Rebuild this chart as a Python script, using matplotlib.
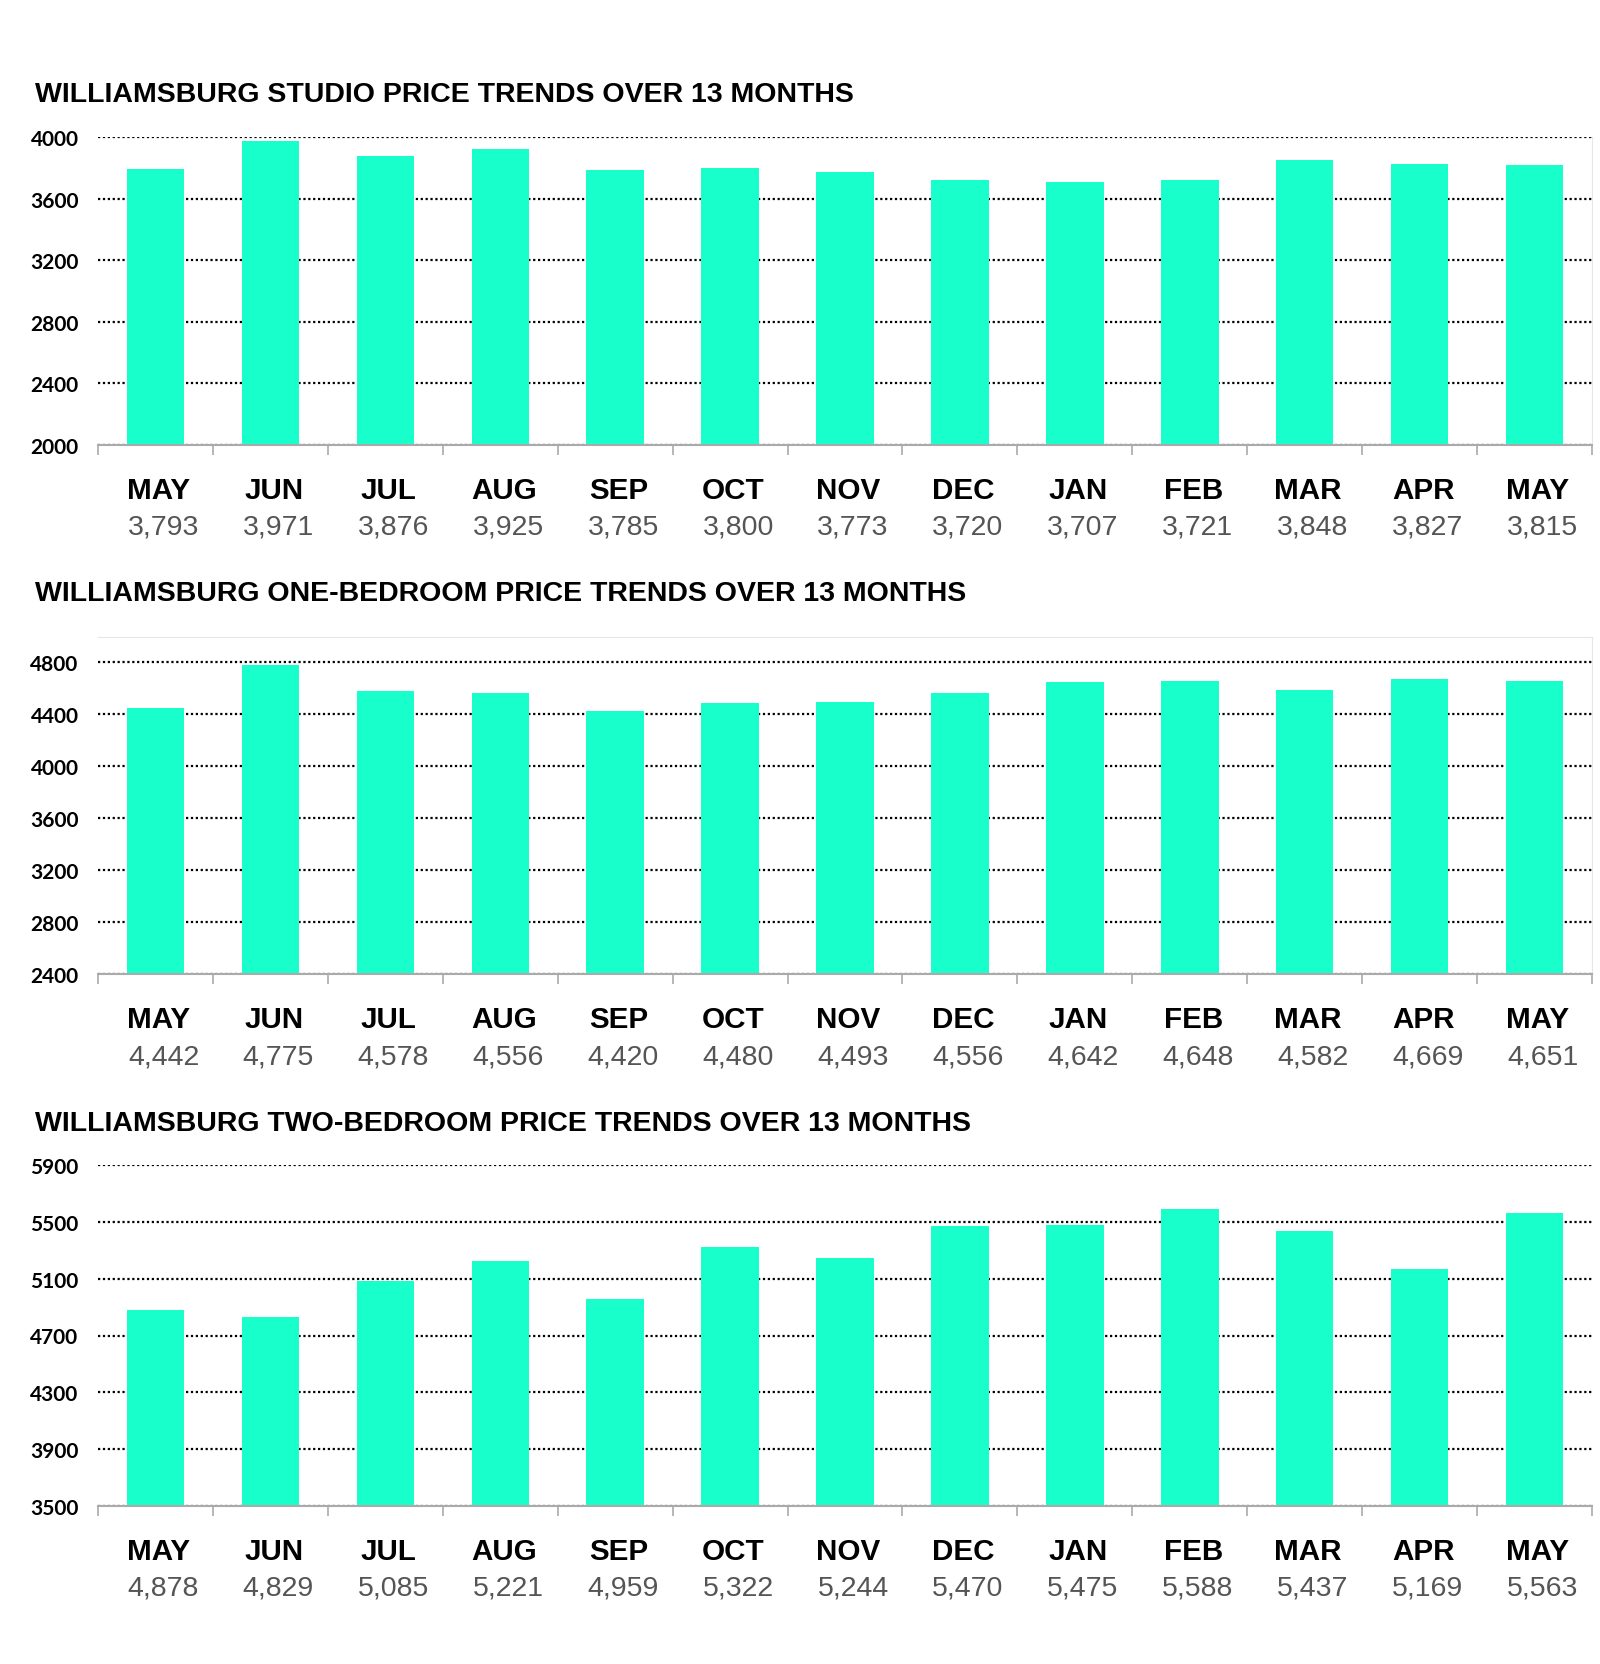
import matplotlib
matplotlib.use("Agg")
import matplotlib.pyplot as plt
import matplotlib.transforms as mtransforms
from matplotlib.ticker import FixedLocator

months = ["MAY", "JUN", "JUL", "AUG", "SEP", "OCT", "NOV", "DEC", "JAN", "FEB", "MAR", "APR", "MAY"]

studio = [3793, 3971, 3876, 3925, 3785, 3800, 3773, 3720, 3707, 3721, 3848, 3827, 3815]
one_bed = [4442, 4775, 4578, 4556, 4420, 4480, 4493, 4556, 4642, 4648, 4582, 4669, 4651]
two_bed = [4878, 4829, 5085, 5221, 4959, 5322, 5244, 5470, 5475, 5588, 5437, 5169, 5563]

titles = [
    "WILLIAMSBURG STUDIO PRICE TRENDS OVER 13 MONTHS",
    "WILLIAMSBURG ONE-BEDROOM PRICE TRENDS OVER 13 MONTHS",
    "WILLIAMSBURG TWO-BEDROOM PRICE TRENDS OVER 13 MONTHS",
]
yticks = [
    [2000, 2400, 2800, 3200, 3600, 4000],
    [2400, 2800, 3200, 3600, 4000, 4400, 4800],
    [3500, 3900, 4300, 4700, 5100, 5500, 5900],
]
ylims = [(2000, 4000), (2400, 4990), (3500, 5900)]
series = [studio, one_bed, two_bed]

W, H = 1600, 1665
fig = plt.figure(figsize=(W / 100, H / 100), dpi=100)
fig.patch.set_facecolor("white")

# (top_px, bottom_px, title_center_px, right_spine, top_spine)
layout = [
    (138, 446, 95, True, False),
    (638, 975, 594, True, True),
    (1166, 1507, 1124, False, False),
]
left_px, right_px = 98, 1592
bar_color = "#19FFCC"

for i, (top, bot, tpy, rsp, tsp) in enumerate(layout):
    ax = fig.add_axes([left_px / W, 1 - bot / H, (right_px - left_px) / W, (bot - top) / H])
    vals = series[i]
    x = list(range(len(months)))
    ax.bar(x, vals, width=0.5, color=bar_color, zorder=3)
    ax.set_xlim(-0.5, len(months) - 0.5)
    ax.set_ylim(*ylims[i])
    ax.set_yticks(yticks[i])
    ax.set_yticklabels([str(v) for v in yticks[i]], fontfamily="Lato", fontweight="bold",
                       fontsize=15, color="black")
    ax.tick_params(axis="y", length=0, pad=14)
    ax.xaxis.set_major_locator(FixedLocator([k - 0.5 for k in range(len(months) + 1)]))
    ax.set_xticklabels([])
    ax.tick_params(axis="x", length=7, width=1.2, color="#aaaaaa", direction="out")
    ax.yaxis.grid(True, linestyle=(0, (1, 1.2)), color="black", linewidth=1.6, zorder=1)
    ax.xaxis.grid(False)
    ax.spines["left"].set_visible(False)
    ax.spines["bottom"].set_color("#aaaaaa")
    ax.spines["bottom"].set_linewidth(1.5)
    ax.spines["bottom"].set_zorder(4)
    ax.spines["right"].set_visible(rsp)
    ax.spines["right"].set_color("#e6e6e6")
    ax.spines["top"].set_visible(tsp)
    ax.spines["top"].set_color("#e6e6e6")

    trans = mtransforms.blended_transform_factory(ax.transData, ax.transAxes)
    for k, (m, v) in enumerate(zip(months, vals)):
        ax.annotate(m, xy=(k + 0.03, 0), xycoords=trans, xytext=(0, -45 * 0.72),
                    textcoords="offset points", ha="center", va="center",
                    fontfamily="Liberation Sans", fontweight="bold", fontsize=21.3, color="black")
        ax.annotate(f"{v:,}", xy=(k + 0.07, 0), xycoords=trans, xytext=(0, -82 * 0.72),
                    textcoords="offset points", ha="center", va="center",
                    fontfamily="Liberation Sans", fontsize=20.5, color="#555555")

    fig.text(35 / W, 1 - tpy / H, titles[i], ha="left", va="center",
             fontfamily="Liberation Sans", fontweight="bold", fontsize=20.5, color="black")

fig.savefig("out.png", dpi=100, facecolor="white")
